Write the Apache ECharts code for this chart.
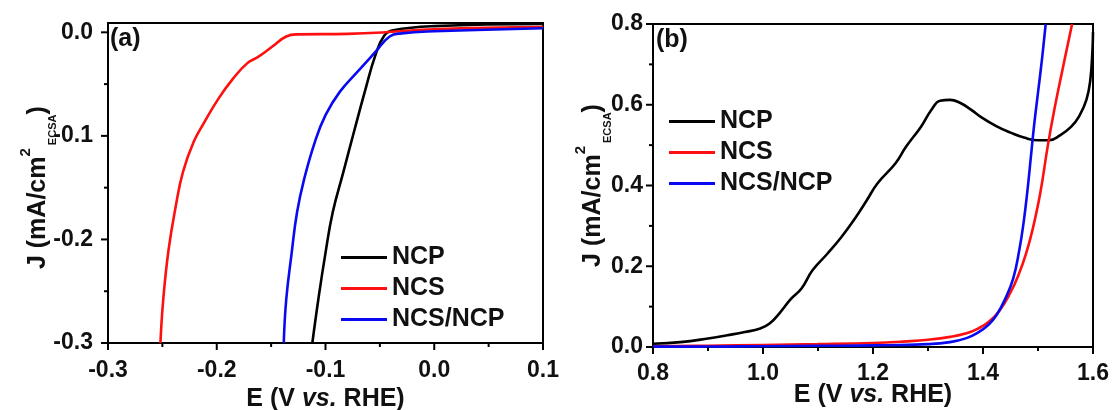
<!DOCTYPE html>
<html>
<head>
<meta charset="utf-8">
<script src="https://cdn.jsdelivr.net/npm/echarts@6/dist/echarts.min.js"></script>
<style>
  html, body { margin: 0; padding: 0; background: #fff; }
  #chart { width: 1115px; height: 410px; background: #fff; }
</style>
</head>
<body>
<div id="chart"></div>
<script>
// Series names shared by both panels
const seriesNames = ['NCP', 'NCS', 'NCS/NCP'];
const seriesColors = ['#000000', '#ff1010', '#0a0af0'];

// Panel (a): HER polarisation, [E (V vs. RHE), J (mA/cm2 ECSA)]
const herNCP = [[-0.1121,-0.3],[-0.1066,-0.258],[-0.1,-0.213],[-0.0934,-0.174],[-0.0836,-0.135],
  [-0.0738,-0.096],[-0.0639,-0.0575],[-0.0541,-0.022],[-0.0459,-0.003],[-0.0377,0.002],[0,0.006],[0.1,0.008]];
const herNCS = [[-0.2518,-0.3],[-0.2492,-0.258],[-0.2443,-0.21],[-0.2377,-0.168],[-0.2311,-0.135],
  [-0.2213,-0.106],[-0.2115,-0.087],[-0.1984,-0.064],[-0.1852,-0.045],[-0.1721,-0.03],[-0.1623,-0.024],
  [-0.1492,-0.014],[-0.1361,-0.004],[-0.126,-0.002],[-0.08,-0.0015],[-0.045,0.0],[0,0.003],[0.1,0.005]];
const herNCSNCP = [[-0.1384,-0.3],[-0.1361,-0.258],[-0.1311,-0.213],[-0.1262,-0.174],[-0.1197,-0.142],
  [-0.1098,-0.106],[-0.1,-0.08],[-0.0869,-0.0575],[-0.0705,-0.038],[-0.0541,-0.019],[-0.041,-0.004],
  [-0.03,-0.001],[0,0.001],[0.1,0.004]];

// Panel (b): OER polarisation, [E (V vs. RHE), J (mA/cm2 ECSA)]
const oerNCP = [[0.8,0.008],[0.85,0.012],[0.9,0.021],[0.935,0.029],[0.967,0.037],[0.995,0.046],
  [1.012,0.058],[1.032,0.087],[1.05,0.118],[1.07,0.145],[1.09,0.19],[1.117,0.231],[1.143,0.273],
  [1.169,0.322],[1.189,0.364],[1.208,0.405],[1.241,0.455],[1.26,0.496],[1.287,0.545],[1.306,0.587],
  [1.322,0.61],[1.34,0.612],[1.358,0.605],[1.378,0.588],[1.398,0.568],[1.424,0.547],[1.45,0.531],
  [1.476,0.518],[1.5,0.512],[1.52,0.512],[1.54,0.524],[1.56,0.545],[1.575,0.572],[1.588,0.612],
  [1.595,0.66],[1.599,0.735],[1.6,0.78]];
const oerNCS = [[0.8,0.002],[0.9,0.003],[1.0,0.005],[1.1,0.007],[1.2,0.01],[1.26,0.014],[1.3,0.018],
  [1.34,0.025],[1.37,0.034],[1.39,0.045],[1.41,0.062],[1.43,0.09],[1.45,0.135],[1.465,0.18],
  [1.478,0.23],[1.49,0.29],[1.504,0.38],[1.518,0.5],[1.53,0.59],[1.545,0.69],[1.562,0.8]];
const oerNCSNCP = [[0.8,0.001],[0.9,0.001],[1.0,0.002],[1.1,0.003],[1.2,0.004],[1.3,0.007],
  [1.34,0.012],[1.37,0.022],[1.39,0.035],[1.41,0.055],[1.425,0.08],[1.44,0.118],[1.455,0.17],
  [1.466,0.24],[1.474,0.31],[1.481,0.39],[1.487,0.47],[1.493,0.55],[1.5,0.63],[1.507,0.71],[1.514,0.8]];

// Axis ranges and tick values
const herXMin = -0.3, herXMax = 0.1;
const herYMin = -0.3, herYTop = 0.009, herYTickMax = 0.0;
const oerXMin = 0.8, oerXMax = 1.6;
const oerYMin = 0.0, oerYMax = 0.8;
const herXMajor = [-0.3, -0.2, -0.1, 0.0, 0.1];
const herXMinor = [-0.25, -0.15, -0.05, 0.05];
const herYMajor = [-0.3, -0.2, -0.1, 0.0];
const herYMinor = [-0.25, -0.15, -0.05];
const oerXMajor = [0.8, 1.0, 1.2, 1.4, 1.6];
const oerXMinor = [0.9, 1.1, 1.3, 1.5];
const oerYMajor = [0.0, 0.2, 0.4, 0.6, 0.8];
const oerYMinor = [0.1, 0.3, 0.5, 0.7];

const FONT = 'Liberation Sans, Arial, sans-serif';
const fmt = v => (Math.abs(v) < 1e-9 ? 0 : v).toFixed(1);
const MAJOR_LEN = 7, MINOR_LEN = 4;

function axisLine() { return { show: true, onZero: false, lineStyle: { color: '#000', width: 2 } }; }
function tickLabel(margin) {
  return { show: true, color: '#111', fontFamily: FONT, fontWeight: 'bold', fontSize: 23, formatter: fmt, margin };
}

const xName = '{t|E (V }{i|vs.}{t| RHE)}';
function xNameStyle() {
  return {
    fontFamily: FONT, fontWeight: 'bold', fontSize: 25, color: '#111',
    rich: {
      t: { fontFamily: FONT, fontWeight: 'bold', fontSize: 25, color: '#111', lineHeight: 22 },
      i: { fontFamily: FONT, fontWeight: 'bold', fontStyle: 'italic', fontSize: 25, color: '#111', lineHeight: 22 }
    }
  };
}
const yName = '{t|J (mA/cm}{sup|2}{sub| ECSA}{t|)}';
function yNameStyle() {
  return {
    fontFamily: FONT, fontWeight: 'bold', fontSize: 25, color: '#111',
    rich: {
      t: { fontFamily: FONT, fontWeight: 'bold', fontSize: 25, color: '#111', lineHeight: 40, verticalAlign: 'middle' },
      sup: { fontFamily: FONT, fontWeight: 'bold', fontSize: 15, color: '#111', lineHeight: 16, verticalAlign: 'top' },
      sub: { fontFamily: FONT, fontWeight: 'bold', fontSize: 11, color: '#111', lineHeight: 12, verticalAlign: 'bottom' }
    }
  };
}

function lineSeries(name, data, color, xi, yi) {
  return {
    type: 'line', name, data, xAxisIndex: xi, yAxisIndex: yi,
    symbol: 'none', smooth: 0.45,
    lineStyle: { color, width: 2.6 }, itemStyle: { color },
    animation: false
  };
}

// Outward tick marks, placed through the axis scales.
// dir 'x': ticks hang below the bottom edge (edge = y value of that edge)
// dir 'y': ticks point left of the left edge (edge = x value of that edge)
function tickSeries(values, len, dir, edge, xi, yi) {
  return {
    type: 'custom', xAxisIndex: xi, yAxisIndex: yi, silent: true, clip: false, z: 5,
    data: values.map(v => [v]),
    renderItem(params, api) {
      const v = api.value(0);
      if (dir === 'x') {
        const p = api.coord([v, edge]);
        return { type: 'line', shape: { x1: p[0], y1: p[1], x2: p[0], y2: p[1] + len },
          style: { stroke: '#000', lineWidth: 2 } };
      }
      const p = api.coord([edge, v]);
      return { type: 'line', shape: { x1: p[0], y1: p[1], x2: p[0] - len, y2: p[1] },
        style: { stroke: '#000', lineWidth: 2 } };
    }
  };
}

function legendBox(left, top) {
  return {
    orient: 'vertical', left, top, itemWidth: 46, itemHeight: 14, itemGap: 6,
    icon: 'path://M0,6 L46,6 L46,9 L0,9 Z',
    data: seriesNames,
    textStyle: { fontFamily: FONT, fontWeight: 'bold', fontSize: 25, color: '#111' },
    selectedMode: false
  };
}

// Panel (a) frame; the labelled current scale lives in a grid that stops at J = 0
const aLeft = 108, aTop = 23, aWidth = 435, aHeight = 320;
const aScaleTop = aTop + aHeight * (herYTop - herYTickMax) / (herYTop - herYMin);

const chart = echarts.init(document.getElementById('chart'), null, { renderer: 'canvas' });

chart.setOption({
  animation: false,
  grid: [
    { left: aLeft, top: aTop, width: aWidth, height: aHeight, show: true, borderColor: '#000', borderWidth: 2, outerBoundsMode: 'none', containLabel: false },
    { left: 653, top: 24, width: 440, height: 323, show: true, borderColor: '#000', borderWidth: 2, outerBoundsMode: 'none', containLabel: false },
    { left: aLeft, top: aScaleTop, width: aWidth, height: aTop + aHeight - aScaleTop, outerBoundsMode: 'none', containLabel: false }
  ],
  xAxis: [
    {
      type: 'value', gridIndex: 0, min: herXMin, max: herXMax, interval: 0.1, position: 'bottom',
      axisLine: axisLine(), axisTick: { show: false }, minorTick: { show: false },
      splitLine: { show: false }, axisLabel: tickLabel(16),
      name: xName, nameLocation: 'middle', nameGap: 45, nameMoveOverlap: false, nameTextStyle: xNameStyle()
    },
    {
      type: 'value', gridIndex: 1, min: oerXMin, max: oerXMax, interval: 0.2, position: 'bottom',
      axisLine: axisLine(), axisTick: { show: false }, minorTick: { show: false },
      splitLine: { show: false }, axisLabel: tickLabel(15),
      name: xName, nameLocation: 'middle', nameGap: 37, nameMoveOverlap: false, nameTextStyle: xNameStyle()
    },
    { type: 'value', gridIndex: 2, min: herXMin, max: herXMax, show: false }
  ],
  yAxis: [
    { type: 'value', gridIndex: 0, min: herYMin, max: herYTop, show: false },
    {
      type: 'value', gridIndex: 1, min: oerYMin, max: oerYMax, interval: 0.2, position: 'left',
      axisLine: axisLine(), axisTick: { show: false }, minorTick: { show: false },
      splitLine: { show: false }, axisLabel: tickLabel(10),
      name: yName, nameLocation: 'middle', nameGap: 40, nameMoveOverlap: false, nameTextStyle: yNameStyle()
    },
    {
      type: 'value', gridIndex: 2, min: herYMin, max: herYTickMax, interval: 0.1, position: 'left',
      axisLine: axisLine(), axisTick: { show: false }, minorTick: { show: false },
      splitLine: { show: false }, axisLabel: tickLabel(15),
      name: yName, nameLocation: 'middle', nameGap: 50, nameMoveOverlap: false, nameTextStyle: yNameStyle()
    }
  ],
  legend: [legendBox(336, 240), legendBox(664, 104)],
  graphic: [
    { type: 'text', left: 110, top: 27, style: { text: '(a)', fontFamily: FONT, fontWeight: 'bold', fontSize: 25, fill: '#111' } },
    { type: 'text', left: 656, top: 28, style: { text: '(b)', fontFamily: FONT, fontWeight: 'bold', fontSize: 25, fill: '#111' } }
  ],
  series: [
    lineSeries(seriesNames[0], herNCP, seriesColors[0], 0, 0),
    lineSeries(seriesNames[1], herNCS, seriesColors[1], 0, 0),
    lineSeries(seriesNames[2], herNCSNCP, seriesColors[2], 0, 0),
    lineSeries(seriesNames[0], oerNCP, seriesColors[0], 1, 1),
    lineSeries(seriesNames[1], oerNCS, seriesColors[1], 1, 1),
    lineSeries(seriesNames[2], oerNCSNCP, seriesColors[2], 1, 1),
    tickSeries(herXMajor, MAJOR_LEN, 'x', herYMin, 0, 0),
    tickSeries(herXMinor, MINOR_LEN, 'x', herYMin, 0, 0),
    tickSeries(herYMajor, MAJOR_LEN, 'y', herXMin, 0, 0),
    tickSeries(herYMinor, MINOR_LEN, 'y', herXMin, 0, 0),
    tickSeries(oerXMajor, MAJOR_LEN, 'x', oerYMin, 1, 1),
    tickSeries(oerXMinor, MINOR_LEN, 'x', oerYMin, 1, 1),
    tickSeries(oerYMajor, MAJOR_LEN, 'y', oerXMin, 1, 1),
    tickSeries(oerYMinor, MINOR_LEN, 'y', oerXMin, 1, 1)
  ]
});
</script>
</body>
</html>
